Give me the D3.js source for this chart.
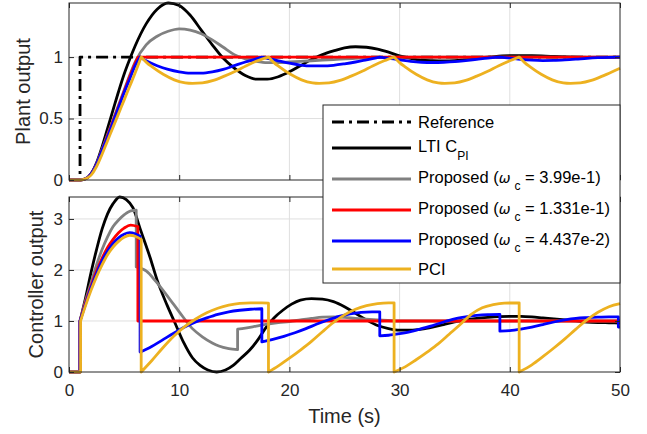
<!DOCTYPE html>
<html>
<head>
<meta charset="utf-8">
<script src="https://cdn.jsdelivr.net/npm/d3@7"></script>
<style>
  body { margin: 0; background: #fff; }
  svg { display: block; font-family: "Liberation Sans", Arial, Helvetica, sans-serif; }
</style>
</head>
<body>
<div class="canvas"></div>
<script>
const svgWidth = 647;
const svgHeight = 434;

// ---- data: [time (s), value]; a repeated time marks a jump or a kink ----
const xTicks = [0, 10, 20, 30, 40, 50];
const plantTicks = [0, 0.5, 1];
const ctrlTicks = [0, 1, 2, 3];

const refPlant = [[0, 0], [1, 0], [1, 1], [50, 1]];

const ltiPlant = [[0, 0], [1, 0], [1.5, 0.01], [2, 0.05], [2.5, 0.14], [3, 0.27], [3.5, 0.42], [4, 0.57], [4.5, 0.72], [5, 0.86], [5.5, 0.98], [6, 1.09],
  [7, 1.27], [8, 1.39], [9, 1.44], [10, 1.42], [11, 1.34], [12, 1.22], [13, 1.10], [14, 0.99], [15, 0.91], [16, 0.85], [17, 0.82], [18, 0.82],
  [19, 0.84], [20, 0.88], [21, 0.93], [22, 0.98], [23, 1.02], [24, 1.05], [25, 1.075], [26, 1.084], [27, 1.08], [28, 1.065], [29, 1.04], [30, 1.01],
  [31, 0.99], [32, 0.975], [33, 0.97], [34, 0.968], [35, 0.97], [36, 0.98], [37, 0.99], [38, 1.0], [39, 1.008], [40, 1.012], [42, 1.012],
  [44, 1.005], [46, 1.0], [48, 0.998], [50, 1.0]];

const grayPlant = [[0, 0], [1, 0], [1.5, 0.01], [2, 0.05], [2.5, 0.13], [3, 0.25], [3.5, 0.37], [4, 0.49], [4.5, 0.61], [5, 0.73], [5.5, 0.85], [6, 0.96],
  [7, 1.1], [8, 1.17], [9, 1.21], [10, 1.23], [11, 1.22], [12, 1.19], [13, 1.14], [14, 1.08], [15, 1.02], [16, 0.985], [17, 0.965], [18, 0.955],
  [19, 0.955], [20, 0.96], [22, 0.97], [24, 0.98], [26, 0.99], [28, 0.995], [30, 1.0], [35, 1.0], [40, 1.0], [50, 1.0]];

const redPlant = [[0, 0], [1, 0], [1.5, 0.01], [2, 0.05], [2.5, 0.13], [3, 0.24], [3.5, 0.36], [4, 0.48], [4.5, 0.6], [5, 0.72], [5.5, 0.84], [6, 0.95],
  [6.25, 1.0], [6.25, 1.0], [50, 1.0]];

const bluePlant = [[0, 0], [1, 0], [1.5, 0.01], [2, 0.05], [2.5, 0.13], [3, 0.24], [3.5, 0.35], [4, 0.47], [4.5, 0.59], [5, 0.71], [5.5, 0.82], [6, 0.93],
  [6.45, 1.0], [6.45, 1.0], [7, 0.97], [8, 0.93], [9, 0.9], [10, 0.88], [11, 0.87], [12, 0.87], [13, 0.88], [14, 0.9], [15, 0.93], [16, 0.96], [17, 0.985],
  [17.5, 1.0], [17.5, 1.0], [18, 0.99], [19, 0.97], [20, 0.95], [21, 0.935], [22, 0.928], [23, 0.928], [24, 0.933], [25, 0.945], [26, 0.96], [27, 0.978],
  [28.2, 1.0], [28.2, 1.0], [29, 0.99], [30, 0.978], [31, 0.965], [32, 0.958], [33, 0.956], [34, 0.958], [35, 0.963], [36, 0.972], [37, 0.982], [38, 0.992],
  [39.1, 1.0], [39.1, 1.0], [40, 0.992], [41, 0.982], [42, 0.975], [43, 0.972], [44, 0.973], [45, 0.977], [46, 0.983], [47, 0.99], [48, 0.995], [49, 0.998], [50, 1.0]];

const pciPlant = [[0, 0], [1, 0], [1.5, 0.01], [2, 0.04], [2.5, 0.11], [3, 0.21], [3.5, 0.32], [4, 0.43], [4.5, 0.54], [5, 0.65], [5.5, 0.76], [6, 0.87],
  [6.55, 1.0], [6.55, 1.0], [7.05, 0.955], [7.55, 0.92], [8.55, 0.86], [9.55, 0.815], [10.55, 0.79], [11.2, 0.786], [12.1, 0.79], [13.1, 0.81], [14.1, 0.845],
  [15.1, 0.885], [16.1, 0.93], [17.1, 0.97], [18.1, 1.0], [18.1, 1.0], [18.6, 0.955], [19.1, 0.92], [20.1, 0.86], [21.1, 0.815], [22.1, 0.79], [22.7, 0.786],
  [23.6, 0.79], [24.6, 0.81], [25.6, 0.845], [26.6, 0.885], [27.6, 0.93], [28.6, 0.97], [29.5, 1.0], [29.5, 1.0], [30, 0.955], [30.5, 0.92], [31.5, 0.86],
  [32.5, 0.815], [33.5, 0.79], [34.1, 0.786], [35, 0.79], [36, 0.81], [37, 0.845], [38, 0.885], [39, 0.93], [40, 0.97], [40.85, 1.0], [40.85, 1.0],
  [41.35, 0.955], [41.85, 0.92], [42.85, 0.86], [43.85, 0.815], [44.85, 0.79], [45.5, 0.786], [46.4, 0.79], [47.4, 0.81], [48.4, 0.845], [49.4, 0.885], [50, 0.91]];

const ltiCtrl = [[0, 0], [1, 0], [1, 1.0], [1.5, 1.45], [2, 1.95], [2.5, 2.4], [3, 2.8], [3.5, 3.1], [4, 3.3], [4.6, 3.43], [5.2, 3.38], [5.8, 3.22],
  [6.5, 2.78], [7.35, 2.25], [8, 1.8], [8.9, 1.31], [9.6, 0.97], [10.4, 0.58], [11.2, 0.28], [11.9, 0.13], [12.6, 0.04], [13.4, 0.0], [14.2, 0.04],
  [14.9, 0.13], [15.6, 0.27], [16.4, 0.43], [17.2, 0.65], [17.9, 0.88], [18.6, 1.06], [19.4, 1.21], [20.2, 1.33], [21, 1.41], [22, 1.44], [23, 1.43],
  [24, 1.38], [25, 1.28], [26, 1.15], [27, 1.02], [28, 0.91], [29, 0.85], [30, 0.82], [31, 0.82], [32, 0.84], [33, 0.88], [34, 0.93], [35, 0.98],
  [36, 1.02], [37, 1.05], [38, 1.07], [39, 1.085], [40, 1.09], [41, 1.09], [42, 1.08], [43, 1.06], [44, 1.04], [45, 1.02], [46, 1.0], [47, 0.98],
  [48, 0.97], [49, 0.965], [50, 0.96]];

const grayCtrl = [[0, 0], [1, 0], [1, 1.0], [1.5, 1.4], [2, 1.75], [2.5, 2.1], [3, 2.4], [3.5, 2.65], [4, 2.85], [4.5, 2.98], [5, 3.08], [5.6, 3.16], [6.1, 3.17],
  [6.1, 2.06], [7, 1.98], [7.9, 1.77], [9.1, 1.44], [10, 1.18], [11.2, 0.85], [12.1, 0.69], [13, 0.57], [13.6, 0.51], [14.5, 0.46], [15.3, 0.44],
  [15.3, 0.84], [16, 0.86], [17, 0.9], [18, 0.94], [19, 0.97], [20, 0.99], [21, 1.02], [22, 1.05], [23, 1.075], [24, 1.08], [25, 1.07], [26, 1.05],
  [28, 1.02], [30, 1.0], [35, 1.0], [40, 1.0], [50, 1.0]];

const redCtrl = [[0, 0], [1, 0], [1, 1.0], [1.5, 1.36], [2, 1.68], [2.5, 1.98], [3, 2.23], [3.5, 2.44], [4, 2.6], [4.5, 2.73], [5, 2.82], [5.6, 2.88], [6.25, 2.85],
  [6.25, 1.0], [50, 1.0]];

const blueCtrl = [[0, 0], [1, 0], [1, 1.0], [1.5, 1.33], [2, 1.65], [2.5, 1.93], [3, 2.18], [3.5, 2.37], [4, 2.52], [4.5, 2.63], [5, 2.7], [5.5, 2.73], [6, 2.71],
  [6.45, 2.66], [6.45, 0.39], [7.5, 0.5], [8.5, 0.63], [9.5, 0.76], [10.5, 0.88], [11.5, 0.98], [12.5, 1.06], [13.5, 1.13], [14.5, 1.18], [15.5, 1.21],
  [16.5, 1.23], [17.5, 1.24], [17.5, 0.59], [18.5, 0.64], [19.5, 0.7], [20.5, 0.77], [21.5, 0.85], [22.5, 0.94], [23.5, 1.02], [24.5, 1.09], [25.5, 1.14],
  [26.5, 1.17], [27.5, 1.18], [28.2, 1.18], [28.2, 0.71], [29, 0.72], [30, 0.75], [31, 0.79], [32, 0.85], [33, 0.91], [34, 0.98], [35, 1.04], [36, 1.08],
  [37, 1.11], [38, 1.125], [39.1, 1.13], [39.1, 0.8], [40, 0.81], [41, 0.84], [42, 0.88], [43, 0.93], [44, 0.98], [45, 1.02], [46, 1.05], [47, 1.065],
  [48, 1.075], [49, 1.08], [49.85, 1.08], [49.85, 0.88], [50, 0.88]];

const pciCtrl = [[0, 0], [1.05, 0], [1.05, 1.0], [1.5, 1.3], [2, 1.6], [2.5, 1.87], [3, 2.1], [3.5, 2.3], [4, 2.45], [4.5, 2.56], [5, 2.64], [5.5, 2.68],
  [6, 2.66], [6.55, 2.6], [6.55, 0], [7.5, 0.22], [8.5, 0.47], [9.5, 0.7], [10.5, 0.89], [11.5, 1.04], [12.5, 1.16], [13.5, 1.25], [14.5, 1.31],
  [15.5, 1.345], [16.5, 1.355], [17.5, 1.355], [18.1, 1.35], [18.1, 0], [19, 0.12], [20, 0.27], [21, 0.43], [22, 0.6], [23, 0.79], [24, 0.97], [25, 1.12],
  [26, 1.23], [27, 1.3], [28, 1.34], [29, 1.355], [29.5, 1.355], [29.5, 0], [30.5, 0.1], [31.5, 0.24], [32.5, 0.39], [33.5, 0.55], [34.5, 0.74],
  [35.5, 0.93], [36.5, 1.13], [37.5, 1.26], [38.5, 1.32], [39.5, 1.35], [40.85, 1.355], [40.85, 0], [42, 0.14], [43, 0.3], [44, 0.47], [45, 0.65],
  [46, 0.84], [47, 1.02], [48, 1.17], [49, 1.28], [50, 1.34]];

const seriesNames = ['Reference', 'LTI C', 'Proposed (', 'Proposed (', 'Proposed (', 'PCI'];
const omegaC = ['3.99e-1', '1.331e-1', '4.437e-2'];

// ---- layout ----
const svg = d3.select('.canvas')
  .append('svg')
  .attr('width', svgWidth)
  .attr('height', svgHeight);

const axisColor = '#262626';
const gridColor = '#dfdfdf';
const plotLeft = 69, plotRight = 620;

const x = d3.scaleLinear().domain([0, 50]).range([plotLeft, plotRight]);
const yPlant = d3.scaleLinear().domain([0, 1.44]).range([180, 3]);
const yCtrl = d3.scaleLinear().domain([0, 3.43]).range([372, 197]);

const styles = [
  { color: '#000000', dash: '12,5,3,5' },
  { color: '#000000', dash: null },
  { color: '#808080', dash: null },
  { color: '#ff0000', dash: null },
  { color: '#0000ff', dash: null },
  { color: '#EDB120', dash: null }
];

// split at repeated times, draw smooth pieces and join them with straight jumps
function pathFor(points, y) {
  const segs = [];
  let cur = [points[0]];
  for (let i = 1; i < points.length; i++) {
    if (points[i][0] === points[i - 1][0]) { segs.push(cur); cur = [points[i]]; }
    else cur.push(points[i]);
  }
  segs.push(cur);
  const line = d3.line().x(d => x(d[0])).y(d => y(d[1])).curve(d3.curveMonotoneX);
  return segs.map((s, i) => {
    const p = line(s).replace(/Z$/, '');
    return i ? 'L' + p.slice(1) : p;
  }).join('');
}

function drawPanel(y, yTicks, showXLabels, seriesList) {
  const g = svg.append('g');
  const [y0, y1] = y.range();

  // grid
  g.selectAll('.vgrid').data(xTicks.slice(1, -1)).enter().append('line')
    .attr('x1', d => x(d)).attr('x2', d => x(d))
    .attr('y1', y0).attr('y2', y1)
    .attr('stroke', gridColor).attr('stroke-width', 1);
  g.selectAll('.hgrid').data(yTicks.slice(1)).enter().append('line')
    .attr('x1', plotLeft).attr('x2', plotRight)
    .attr('y1', d => y(d)).attr('y2', d => y(d))
    .attr('stroke', gridColor).attr('stroke-width', 1);

  // curves
  seriesList.forEach((pts, i) => {
    if (!pts) return;
    g.append('path')
      .attr('d', pathFor(pts, y))
      .attr('fill', 'none')
      .attr('stroke', styles[i].color)
      .attr('stroke-width', 2.8)
      .attr('stroke-dasharray', styles[i].dash)
      .attr('stroke-linejoin', 'round');
  });

  // axes, ticks inside
  const xb = g.append('g').attr('transform', `translate(0,${y0})`)
    .call(d3.axisBottom(x).tickValues(xTicks).tickSizeInner(-5).tickSizeOuter(0).tickPadding(12)
      .tickFormat(showXLabels ? d3.format('d') : () => ''));
  g.append('g').attr('transform', `translate(0,${y1})`)
    .call(d3.axisTop(x).tickValues(xTicks).tickSizeInner(-5).tickSizeOuter(0).tickFormat(() => ''));
  const yl = g.append('g').attr('transform', `translate(${plotLeft},0)`)
    .call(d3.axisLeft(y).tickValues(yTicks).tickSizeInner(-5).tickSizeOuter(0).tickPadding(6)
      .tickFormat(d => String(d)));
  g.append('g').attr('transform', `translate(${plotRight},0)`)
    .call(d3.axisRight(y).tickValues(yTicks).tickSizeInner(-5).tickSizeOuter(0).tickFormat(() => ''));

  g.selectAll('.domain').remove();
  g.selectAll('.tick line').attr('stroke', axisColor);
  g.selectAll('.tick text').attr('fill', axisColor).attr('font-size', 17)
    .attr('font-family', '"Liberation Sans", Arial, Helvetica, sans-serif');

  g.append('rect')
    .attr('x', plotLeft).attr('y', y1)
    .attr('width', plotRight - plotLeft).attr('height', y0 - y1)
    .attr('fill', 'none').attr('stroke', axisColor).attr('stroke-width', 1);
  return g;
}

drawPanel(yPlant, plantTicks, false, [refPlant, ltiPlant, grayPlant, redPlant, bluePlant, pciPlant]);
drawPanel(yCtrl, ctrlTicks, true, [null, ltiCtrl, grayCtrl, redCtrl, blueCtrl, pciCtrl]);

// axis labels
svg.append('text')
  .attr('transform', `translate(30,${(yPlant.range()[0] + yPlant.range()[1]) / 2}) rotate(-90)`)
  .attr('text-anchor', 'middle').attr('font-size', 20).attr('fill', axisColor)
  .text('Plant output');
svg.append('text')
  .attr('transform', `translate(43,${(yCtrl.range()[0] + yCtrl.range()[1]) / 2}) rotate(-90)`)
  .attr('text-anchor', 'middle').attr('font-size', 20).attr('fill', axisColor)
  .text('Controller output');
svg.append('text')
  .attr('x', (plotLeft + plotRight) / 2).attr('y', 423)
  .attr('text-anchor', 'middle').attr('font-size', 20).attr('fill', axisColor)
  .text('Time (s)');

// legend
const legendBox = { x: 323, y: 105, w: plotRight - 323, h: 178 };
const legendRowY = [122, 148, 179, 210, 241, 269];
const legend = svg.append('g');
legend.append('rect')
  .attr('x', legendBox.x).attr('y', legendBox.y)
  .attr('width', legendBox.w).attr('height', legendBox.h)
  .attr('fill', '#fff').attr('stroke', axisColor).attr('stroke-width', 1);

seriesNames.forEach((name, i) => {
  const ly = legendRowY[i];
  legend.append('line')
    .attr('x1', 332).attr('x2', 411).attr('y1', ly).attr('y2', ly)
    .attr('stroke', styles[i].color).attr('stroke-width', 2.8)
    .attr('stroke-dasharray', styles[i].dash);
  const hasSub = i >= 1 && i <= 4;
  const t = legend.append('text')
    .attr('x', 418).attr('y', ly + (hasSub ? 4 : 6))
    .attr('font-size', 16.5).attr('fill', '#000');
  t.append('tspan').text(name);
  if (i === 1) {
    t.append('tspan').attr('font-size', 12).attr('dy', 8).text('PI');
  } else if (hasSub) {
    t.append('tspan').attr('font-style', 'italic').attr('font-family', '"DejaVu Sans", sans-serif')
      .attr('font-size', 14).text('\u03c9');
    t.append('tspan').attr('font-size', 12).attr('dy', 7).attr('dx', 4).text('c');
    t.append('tspan').attr('dy', -7).text(' = ' + omegaC[i - 2] + ')');
  }
});
</script>
</body>
</html>
